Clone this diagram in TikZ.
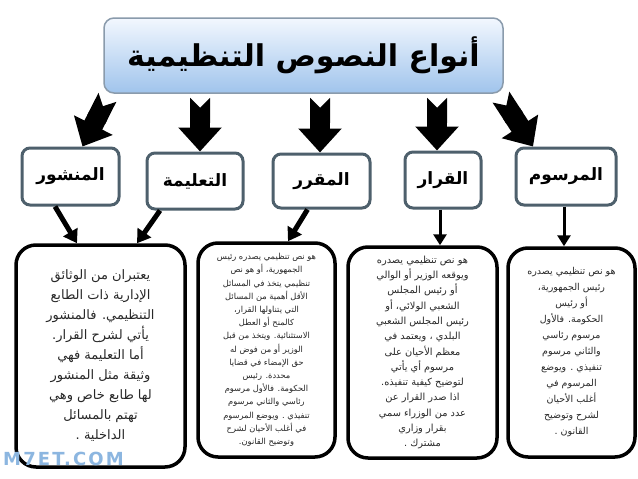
\documentclass[tikz,border=0pt]{standalone}
\usepackage{fontspec}
\setmainfont{DejaVu Sans}
\newfontfamily\arabicfont[Script=Arabic]{DejaVu Sans}
\TeXXeTstate=1
\usetikzlibrary{arrows.meta}
\newcommand\arl[1]{\beginR#1\endR}
\definecolor{titleborder}{RGB}{138,155,172}
\definecolor{titletop}{RGB}{242,247,254}
\definecolor{titlebot}{RGB}{160,196,236}
\definecolor{headborder}{RGB}{78,96,108}
\definecolor{bodytext}{RGB}{40,40,40}
\definecolor{wmblue}{RGB}{140,182,224}
\tikzset{
  titlebox/.style={rectangle, rounded corners=10pt, draw=titleborder, line width=1.5pt,
    top color=titletop, bottom color=titlebot, inner sep=0pt,
    font=\arabicfont\bfseries\fontsize{30}{36}\selectfont},
  headbox/.style={rectangle, rounded corners=8pt, draw=headborder, line width=3pt,
    fill=white, inner sep=0pt, font=\arabicfont\bfseries\fontsize{17}{20}\selectfont},
  textbox/.style={rectangle, rounded corners=20pt, draw=black, line width=3.5pt,
    fill=white, inner sep=0pt, align=center, text=bodytext},
  bigarrow/.style={line width=20pt, {Triangle Cap[reversed]}-{Triangle[width=42pt,length=24pt]},
    shorten <=4pt},
  smallarrow/.style={line width=5pt, -{Triangle[width=16pt,length=13pt]}},
  thinarrow/.style={line width=3pt, -{Triangle[width=13pt,length=11pt]}}
}
\begin{document}
\begin{tikzpicture}[x=1pt,y=-1pt]
\useasboundingbox (0,0) rectangle (638,479);
\fill[white] (0,0) rectangle (638,479);

\node[titlebox, minimum width=399pt, minimum height=75pt] (title) at (303.5,55.5)
  {\arl{أنواع النصوص التنظيمية}};

\node[headbox, minimum width=97pt, minimum height=57pt] (h1) at (70.5,176.5) {\arl{المنشور}};
\node[headbox, minimum width=96pt, minimum height=56pt] (h2) at (195,181) {\arl{التعليمة}};
\node[headbox, minimum width=97pt, minimum height=54pt] (h3) at (321.5,181) {\arl{المقرر}};
\node[headbox, minimum width=76pt, minimum height=56pt] (h4) at (443,180) {\arl{القرار}};
\node[headbox, minimum width=100pt, minimum height=57pt] (h5) at (566,176.5) {\arl{المرسوم}};

\node[textbox, minimum width=169pt, minimum height=222pt,
  font=\arabicfont\fontsize{13}{20}\selectfont] (t1) at (100.5,356) {%
\arl{يعتبران من الوثائق}\\
\arl{الإدارية ذات الطابع}\\
\arl{التنظيمي. فالمنشور}\\
\arl{يأتي لشرح القرار.}\\
\arl{أما التعليمة فهي}\\
\arl{وثيقة مثل المنشور}\\
\arl{لها طابع خاص وهي}\\
\arl{تهتم بالمسائل}\\
\arl{الداخلية .}};

\node[textbox, minimum width=137pt, minimum height=214pt,
  font=\arabicfont\fontsize{8.3}{13.2}\selectfont] (t2) at (266.5,350) {%
\arl{هو نص تنظيمي يصدره رئيس}\\
\arl{الجمهورية، أو هو نص}\\
\arl{تنظيمي يتخذ في المسائل}\\
\arl{الأقل أهمية من المسائل}\\
\arl{التي يتناولها القرار،}\\
\arl{كالمنح أو العطل}\\
\arl{الاستثنائية. ويتخذ من قبل}\\
\arl{الوزير أو من فوض له}\\
\arl{حق الإمضاء في قضايا}\\
\arl{محددة. رئيس}\\
\arl{الحكومة. فالأول مرسوم}\\
\arl{رئاسي والثاني مرسوم}\\
\arl{تنفيذي . ويوضع المرسوم}\\
\arl{في أغلب الأحيان لشرح}\\
\arl{وتوضيح القانون.}};

\node[textbox, minimum width=149pt, minimum height=211pt,
  font=\arabicfont\fontsize{9.8}{15.3}\selectfont] (t3) at (422.5,352.5) {%
\arl{هو نص تنظيمي يصدره}\\
\arl{ويوقعه الوزير أو الوالي}\\
\arl{أو رئيس المجلس}\\
\arl{الشعبي الولائي، أو}\\
\arl{رئيس المجلس الشعبي}\\
\arl{البلدي ، ويعتمد في}\\
\arl{معظم الأحيان على}\\
\arl{مرسوم أي يأتي}\\
\arl{لتوضيح كيفية تنفيذه.}\\
\arl{اذا صدر القرار عن}\\
\arl{عدد من الوزراء سمي}\\
\arl{بقرار وزاري}\\
\arl{مشترك .}};

\node[textbox, minimum width=127pt, minimum height=209pt,
  font=\arabicfont\fontsize{9.5}{16}\selectfont] (t4) at (571.5,352.5) {%
\arl{هو نص تنظيمي يصدره}\\
\arl{رئيس الجمهورية،}\\
\arl{أو رئيس}\\
\arl{الحكومة. فالأول}\\
\arl{مرسوم رئاسي}\\
\arl{والثاني مرسوم}\\
\arl{تنفيذي . ويوضع}\\
\arl{المرسوم في}\\
\arl{أغلب الأحيان}\\
\arl{لشرح وتوضيح}\\
\arl{القانون .}};

% big arrows from the title to the headers
\coordinate (a2) at ([xshift=5pt]h2.north);
\coordinate (a3) at ([xshift=-1.5pt]h3.north);
\coordinate (a4) at ([xshift=-6pt]h4.north);
\draw[bigarrow] ([xshift=6pt]title.south west) -- ([xshift=12pt]h1.north);
\draw[bigarrow] (title.south -| a2) -- (a2);
\draw[bigarrow] (title.south -| a3) -- (a3);
\draw[bigarrow] (title.south -| a4) -- (a4);
\draw[bigarrow] ([xshift=-5pt]title.south east) -- ([xshift=-33pt]h5.north);

% small arrows from the headers to the text boxes
\draw[smallarrow] ([xshift=-15.5pt]h1.south) -- ([xshift=-23.5pt]t1.north);
\draw[smallarrow] ([xshift=-35pt]h2.south) -- ([xshift=36.5pt]t1.north);
\draw[smallarrow] ([xshift=-14pt]h3.south) -- ([xshift=21.5pt]t2.north);
\coordinate (b4) at ([xshift=-3pt]h4.south);
\coordinate (b5) at ([xshift=-2pt]h5.south);
\draw[thinarrow] (b4) -- (b4 |- t3.north);
\draw[thinarrow] (b5) -- (b5 |- t4.north);

% watermark
\node[font=\bfseries\fontsize{18}{20}\selectfont\addfontfeature{LetterSpace=12},
  text=wmblue, inner sep=0pt, anchor=west] (wm) at (3,459) {M7ET.COM};
\end{tikzpicture}
\end{document}
